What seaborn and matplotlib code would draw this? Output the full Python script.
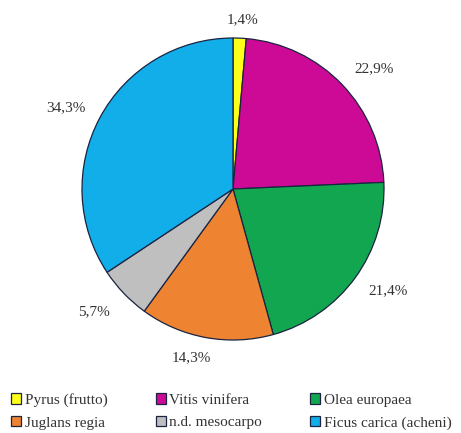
import matplotlib
matplotlib.use("Agg")
import matplotlib.pyplot as plt
import numpy as np
import seaborn as sns

# Composizione dei resti carpologici (percentuali)
categories = ["Pyrus (frutto)", "Vitis vinifera", "Olea europaea",
              "Juglans regia", "n.d. mesocarpo", "Ficus carica (acheni)"]
values = [1.4, 22.9, 21.4, 14.3, 5.7, 34.3]
colors = ["#FFFF1A", "#CC0A96", "#12A650", "#EE8432", "#BFBFBF", "#12AEEA"]

sns.set_theme(style="white")
plt.rcParams["font.family"] = ["Liberation Serif", "DejaVu Serif"]

fig = plt.figure(figsize=(4.61, 4.33), dpi=100)
W, H = 461, 433
cx, cy, r = 233, 189, 151
ax = fig.add_axes([(cx - r) / W, (H - cy - r) / H, 2 * r / W, 2 * r / H])

wedges, _ = ax.pie(
    values, colors=colors, startangle=90, counterclock=False, radius=1,
    wedgeprops=dict(edgecolor="#1a2340", linewidth=0.9),
)
ax.set_xlim(-1, 1)
ax.set_ylim(-1, 1)
ax.set_aspect("equal")

# percentage labels just outside each slice (radial distance, angular nudge)
label_dist = [1.12, 1.23, 1.23, 1.15, 1.23, 1.23]
label_nudge = [-0.6, -3.3, 2.7, -3.7, -2.2, 2.2]
for w, v, d, n in zip(wedges, values, label_dist, label_nudge):
    ang = np.deg2rad((w.theta1 + w.theta2) / 2 + n)
    ax.text(d * np.cos(ang), d * np.sin(ang), f"{v:.1f}%".replace(".", ","),
            ha="center", va="center", fontsize=11, color="#333333",
            clip_on=False)

# legend laid out row by row (three per row)
order = [0, 3, 1, 4, 2, 5]
fig.legend(
    [wedges[i] for i in order], [categories[i] for i in order],
    ncol=3, loc="upper left", bbox_to_anchor=(11 / W, 1 - 393 / H),
    frameon=False, fontsize=11, borderpad=0, borderaxespad=0,
    handlelength=0.65, handleheight=0.65, handletextpad=0.25,
    columnspacing=3.15, labelspacing=0.6, labelcolor="#333333",
)

fig.savefig("out.png", dpi=100)
